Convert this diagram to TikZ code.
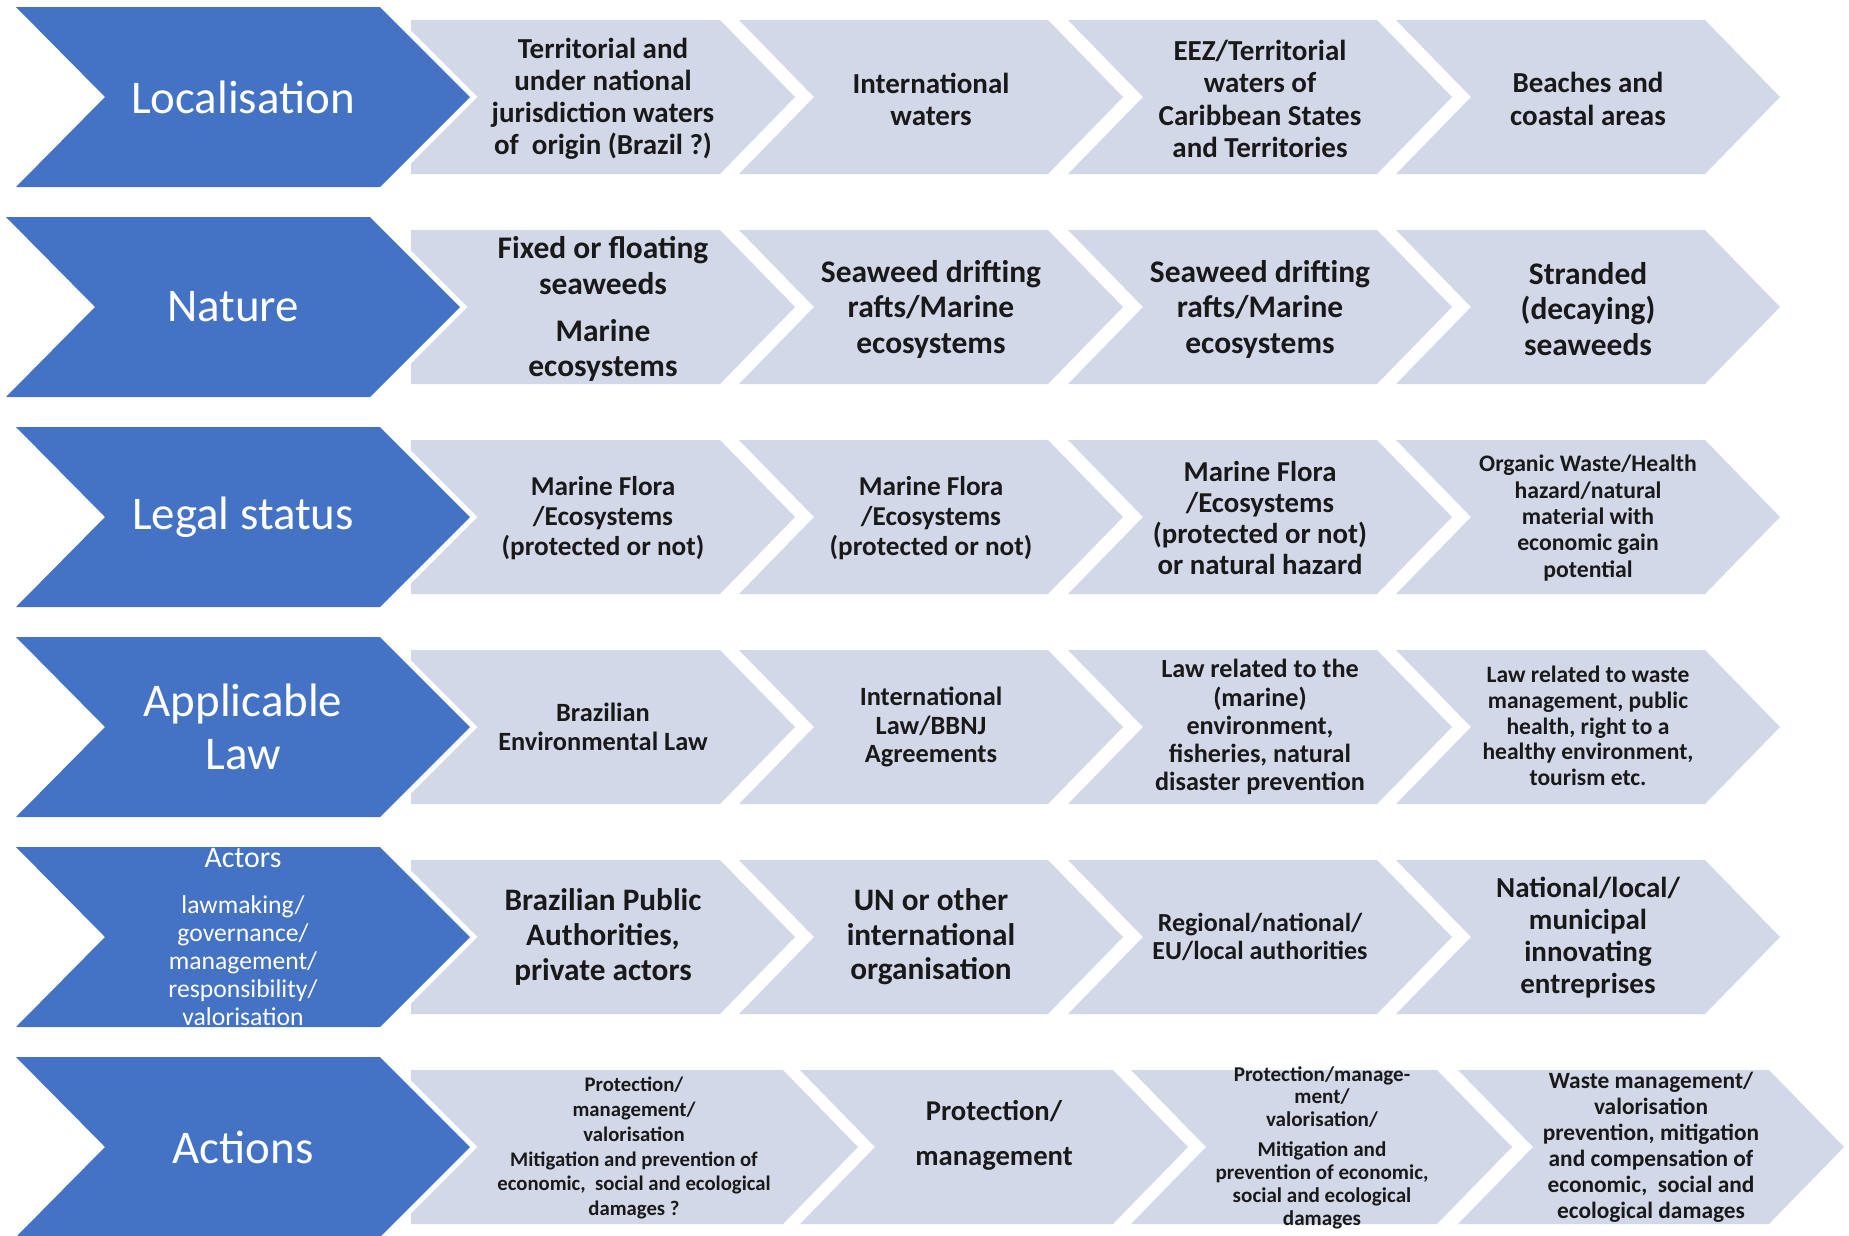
\documentclass[tikz,border=0pt]{standalone}
\usepackage{fontspec}
\setmainfont{Carlito}
\usepackage{tikz}
\definecolor{headblue}{HTML}{4472C4}
\definecolor{stepgray}{HTML}{D3D8E9}
\tikzset{
    head-shape/.style = {fill=headblue, preaction={draw=white, line width=6pt, line join=miter}},
    step-shape/.style = {fill=stepgray},
    head-label/.style = {text=white, align=center, inner sep=0pt, font=\fontsize{26.7}{30.5}\selectfont},
    step-label/.style 2 args = {text=black!90, align=center, inner sep=0pt, font=\bfseries\fontsize{#1}{#2}\selectfont},
}

\begin{document}
\begin{tikzpicture}[x=0.02cm, y=-0.02cm]
\useasboundingbox (0,0) rectangle (1849,1235);
\clip (0,0) rectangle (1849,1235);

% grey steps
\foreach \yc in {97, 307, 517, 727, 937} {
    \fill[step-shape] (411,\yc-77) -- ++(309,0) -- ++(75,77) -- ++(-75,77) -- ++(-309,0) -- cycle;
    \foreach \xl in {739, 1068, 1396}
        \fill[step-shape] (\xl,\yc-77) -- ++(309,0) -- ++(75,77) -- ++(-75,77) -- ++(-309,0) -- ++(75,-77) -- cycle;
}
\fill[step-shape] (411,1070) -- ++(372,0) -- ++(75,77) -- ++(-75,77) -- ++(-372,0) -- cycle;
\foreach \xl/\w in {800/313, 1131/306, 1458/311}
    \fill[step-shape] (\xl,1070) -- ++(\w,0) -- ++(75,77) -- ++(-75,77) -- ++(-\w,0) -- ++(75,-77) -- cycle;

% blue headings, on top of the first step
\foreach \yc/\xl in {97/16, 307/6, 517/16, 727/16, 937/16, 1147/16}
    \fill[head-shape] (\xl,\yc-90) -- ++(364,0) -- ++(90,90) -- ++(-90,90) -- ++(-364,0) -- ++(89,-90) -- cycle;

% Localisation
\node[head-label] (loc) at (243,97) {Localisation};
\node[step-label={16.5}{18.3}] (loc-1) at (603,99) {Territorial and\\under national\\jurisdiction waters\\of\ \ origin (Brazil ?)};
\node[step-label={16.5}{18.3}] (loc-2) at (931,99) {International\\waters};
\node[step-label={16.5}{18.3}] (loc-3) at (1260,99) {EEZ/Territorial\\waters of\\Caribbean States\\and Territories};
\node[step-label={16.5}{18.3}] (loc-4) at (1588,99) {Beaches and\\coastal areas};

% Nature
\node[head-label] (nat) at (233,307) {Nature};
\node[step-label={17.9}{20.2}] (nat-1) at (603,309) {Fixed or floating\\seaweeds\\[6.5pt]Marine\\ecosystems};
\node[step-label={17.9}{20.2}] (nat-2) at (931,309) {Seaweed drifting\\rafts/Marine\\ecosystems};
\node[step-label={17.9}{20.2}] (nat-3) at (1260,309) {Seaweed drifting\\rafts/Marine\\ecosystems};
\node[step-label={17.9}{20.2}] (nat-4) at (1588,309) {Stranded\\(decaying)\\seaweeds};

% Legal status
\node[head-label] (leg) at (243,517) {Legal status};
\node[step-label={15.5}{17}] (leg-1) at (603,518) {Marine Flora\\/Ecosystems\\(protected or not)};
\node[step-label={15.5}{17}] (leg-2) at (931,518) {Marine Flora\\/Ecosystems\\(protected or not)};
\node[step-label={16.4}{17.6}] (leg-3) at (1260,518) {Marine Flora\\/Ecosystems\\(protected or not)\\or natural hazard};
\node[step-label={13.5}{15}] (leg-4) at (1588,518) {Organic Waste/Health\\hazard/natural\\material with\\economic gain\\potential};

% Applicable law
\node[head-label] (law) at (243,727) {Applicable\\Law};
\node[step-label={15}{16.2}] (law-1) at (603,727) {Brazilian\\Environmental Law};
\node[step-label={15}{16.2}] (law-2) at (931,727) {International\\Law/BBNJ\\Agreements};
\node[step-label={14.9}{16}] (law-3) at (1260,727) {Law related to the\\(marine)\\environment,\\fisheries, natural\\disaster prevention};
\node[step-label={13.4}{14.6}] (law-4) at (1588,726) {Law related to waste\\management, public\\health, right to a\\healthy environment,\\tourism etc.};

% Actors
\node[head-label, font=\fontsize{14.6}{16}\selectfont] (act) at (243,937) {{\fontsize{17}{20}\selectfont Actors}\\[10pt]lawmaking/\\governance/\\management/\\responsibility/\\valorisation};
\node[step-label={17.8}{19.7}] (act-1) at (603,937) {Brazilian Public\\Authorities,\\private actors};
\node[step-label={17.8}{19.7}] (act-2) at (931,937) {UN or other\\international\\organisation};
\node[step-label={14.8}{16}] (act-3) at (1260,937) {Regional/national/\\EU/local authorities};
\node[step-label={16.5}{18.2}] (act-4) at (1588,938) {National/local/\\municipal\\innovating\\entreprises};

% Actions
\node[head-label] (acn) at (243,1147) {Actions};
\node[step-label={11.8}{14.2}] (acn-1) at (634,1148) {Protection/\\management/\\valorisation\\Mitigation and prevention of\\economic,\ \ social and ecological\\damages ?};
\node[step-label={16.3}{25.5}] (acn-2) at (994,1135) {Protection/\\management};
\node[step-label={12}{13}] (acn-3) at (1322,1147.5) {Protection/manage-\\ment/\\valorisation/\\[4pt]Mitigation and\\prevention of economic,\\social and ecological\\damages};
\node[step-label={13.3}{14.8}] (acn-4) at (1651,1147) {Waste management/\\valorisation\\prevention, mitigation\\and compensation of\\economic,\ \ social and\\ecological damages};
\end{tikzpicture}
\end{document}
